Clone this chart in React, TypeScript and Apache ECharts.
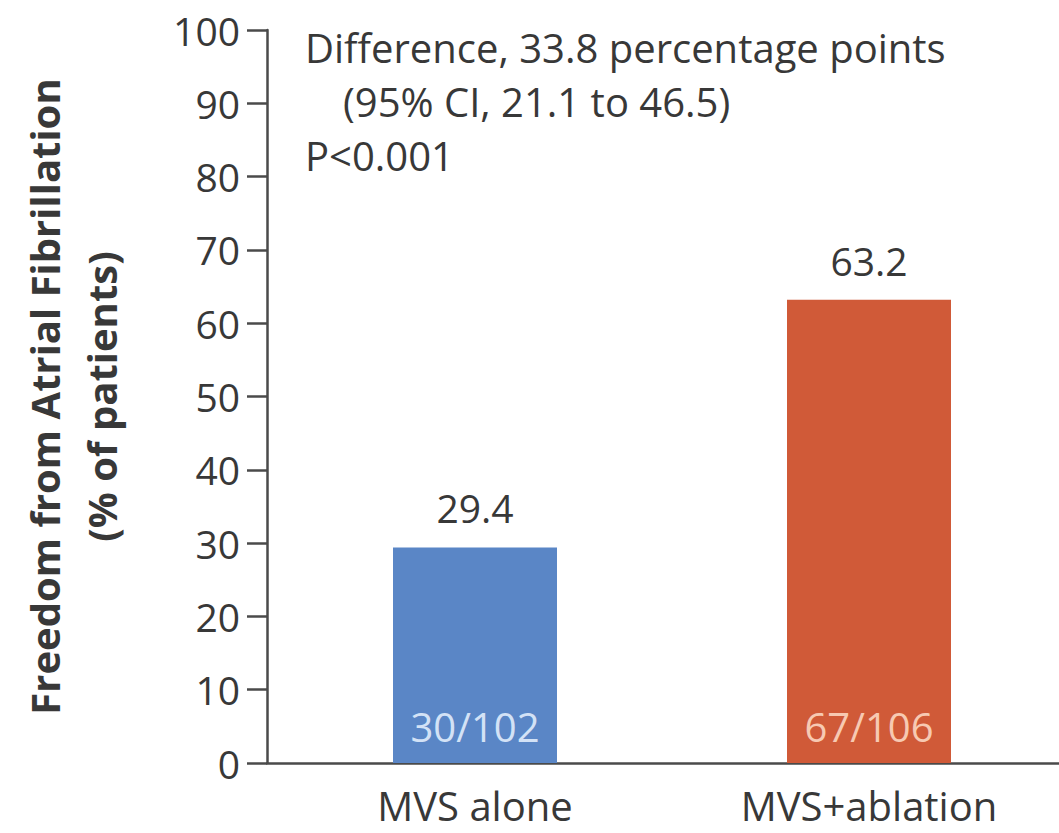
import React, { useEffect, useRef } from "react";
import * as echarts from "echarts";

// Freedom from atrial fibrillation at 12 months, by treatment group
const categories = ["MVS alone", "MVS+ablation"];
const percentFree = [29.4, 63.2];
const patientsFree = [30, 67];
const patientsTotal = [102, 106];
const barColors = ["#5a86c6", "#d05a38"];
const countColors = ["#d3e2f6", "#f7c9b2"];
const yTicks = { min: 0, max: 100, step: 10 };
const noteLines = [
  "Difference, 33.8 percentage points",
  "(95% CI, 21.1 to 46.5)",
  "P<0.001",
];

const FONT = "'Open Sans', 'Noto Sans', sans-serif";
const TEXT = "#383838";
const AXIS = "#4a4a4a";

export default function App() {
  const ref = useRef<HTMLDivElement>(null);

  useEffect(() => {
    if (!ref.current) return;
    const chart = echarts.init(ref.current, undefined, { renderer: "svg" });

    const option: any = {
      animation: false,
      backgroundColor: "#ffffff",
      textStyle: { fontFamily: FONT },
      grid: [
        // frame holding the y axis and the full-length baseline
        { left: 267, top: 30, bottom: 70, right: -30, outerBoundsMode: "none", containLabel: false },
        // plotting area for the two bars
        { left: 278, top: 30, bottom: 70, width: 788, outerBoundsMode: "none", containLabel: false },
      ],
      xAxis: [
        {
          type: "value",
          gridIndex: 0,
          min: 0,
          max: 1,
          axisLine: { show: true, lineStyle: { color: AXIS, width: 2.5 } },
          axisTick: { show: false },
          axisLabel: { show: false },
          splitLine: { show: false },
        },
        {
          type: "category",
          gridIndex: 1,
          data: categories,
          axisLine: { show: false },
          axisTick: { show: false },
          axisLabel: {
            color: TEXT,
            fontFamily: FONT,
            fontSize: 40,
            margin: 22,
          },
        },
      ],
      yAxis: [
        {
          type: "value",
          gridIndex: 0,
          min: yTicks.min,
          max: yTicks.max,
          interval: yTicks.step,
          axisLine: { show: true, lineStyle: { color: AXIS, width: 2.5 } },
          axisTick: {
            show: true,
            inside: false,
            length: 20,
            lineStyle: { color: AXIS, width: 2.5 },
          },
          axisLabel: {
            color: TEXT,
            fontFamily: FONT,
            fontSize: 39,
            margin: 27,
          },
          splitLine: { show: false },
          name: "Freedom from Atrial Fibrillation\n(% of patients)",
          nameLocation: "middle",
          nameGap: 137,
          nameTextStyle: {
            color: TEXT,
            fontFamily: FONT,
            fontWeight: "bold",
            fontSize: 40,
            lineHeight: 57,
            align: "center",
          },
        },
        {
          type: "value",
          gridIndex: 1,
          min: yTicks.min,
          max: yTicks.max,
          show: false,
        },
      ],
      series: [
        {
          type: "bar",
          xAxisIndex: 1,
          yAxisIndex: 1,
          barWidth: 164,
          data: percentFree.map((v, i) => ({
            value: v,
            itemStyle: { color: barColors[i] },
          })),
          label: {
            show: true,
            position: "top",
            distance: 20,
            color: TEXT,
            fontFamily: FONT,
            fontSize: 39,
            formatter: (p: any) => Number(p.value).toFixed(1),
          },
          z: 2,
        },
        {
          type: "bar",
          xAxisIndex: 1,
          yAxisIndex: 1,
          barWidth: 164,
          barGap: "-100%",
          data: percentFree.map((v, i) => ({
            value: v,
            itemStyle: { color: "rgba(0,0,0,0)" },
            label: { color: countColors[i] },
          })),
          label: {
            show: true,
            position: "insideBottom",
            distance: 17,
            fontFamily: FONT,
            fontSize: 40,
            formatter: (p: any) =>
              `${patientsFree[p.dataIndex]}/${patientsTotal[p.dataIndex]}`,
          },
          z: 3,
        },
      ],
      graphic: [
        {
          type: "text",
          left: 305,
          top: 27,
          style: {
            text: noteLines[0],
            fill: TEXT,
            font: `40px ${FONT}`,
          },
        },
        {
          type: "text",
          left: 343,
          top: 81,
          style: {
            text: noteLines[1],
            fill: TEXT,
            font: `40px ${FONT}`,
          },
        },
        {
          type: "text",
          left: 305,
          top: 135,
          style: {
            text: noteLines[2],
            fill: TEXT,
            font: `40px ${FONT}`,
          },
        },
      ],
    };

    chart.setOption(option);
    return () => chart.dispose();
  }, []);

  return (
    <div
      ref={ref}
      style={{
        position: "fixed",
        left: 0,
        top: 0,
        width: 1059,
        height: 833,
        background: "#fff",
      }}
    />
  );
}
